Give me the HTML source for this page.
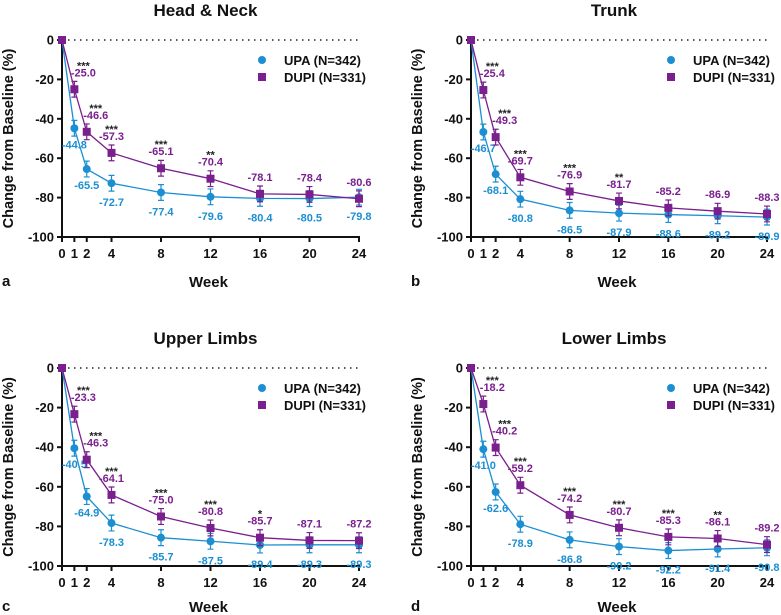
<!DOCTYPE html>
<html><head><meta charset="utf-8"><style>
body{margin:0;background:#fff;}
svg{display:block;font-family:"Liberation Sans",Arial,sans-serif;font-weight:bold;}
</style></head><body>
<svg id="chart" width="781" height="615" viewBox="0 0 781 615"></svg>
<script>
const weeks=[0,1,2,4,8,12,16,20,24];
const yTicks=[0,-20,-40,-60,-80,-100];
const xTickLabels=[0,1,2,4,8,12,16,20,24];
const titles=["Head & Neck","Trunk","Upper Limbs","Lower Limbs"];
const letters=["a","b","c","d"];
const upaA=[0,-44.8,-65.5,-72.7,-77.4,-79.6,-80.4,-80.5,-79.8];
const dupiA=[0,-25.0,-46.6,-57.3,-65.1,-70.4,-78.1,-78.4,-80.6];
const starsA=["","***","***","***","***","**","","",""];
const upaB=[0,-46.7,-68.1,-80.8,-86.5,-87.9,-88.6,-89.2,-89.9];
const dupiB=[0,-25.4,-49.3,-69.7,-76.9,-81.7,-85.2,-86.9,-88.3];
const starsB=["","***","***","***","***","**","","",""];
const upaC=[0,-40.5,-64.9,-78.3,-85.7,-87.5,-89.4,-89.3,-89.3];
const dupiC=[0,-23.3,-46.3,-64.1,-75.0,-80.8,-85.7,-87.1,-87.2];
const starsC=["","***","***","***","***","***","*","",""];
const upaD=[0,-41.0,-62.6,-78.9,-86.8,-90.2,-92.2,-91.4,-90.8];
const dupiD=[0,-18.2,-40.2,-59.2,-74.2,-80.7,-85.3,-86.1,-89.2];
const starsD=["","***","***","***","***","***","***","**",""];
const errBar=4;
const panels=[
 {upa:upaA,dupi:dupiA,stars:starsA,x0:62,x1:359,y0:40,y1:237,ox:0,wk:50},
 {upa:upaB,dupi:dupiB,stars:starsB,x0:471,x1:767,y0:40,y1:237,ox:409,wk:50},
 {upa:upaC,dupi:dupiC,stars:starsC,x0:62,x1:359,y0:368,y1:566,ox:0,wk:46},
 {upa:upaD,dupi:dupiD,stars:starsD,x0:471,x1:767,y0:368,y1:566,ox:409,wk:46}
];
const UPA="#1b8fd2",DUPI="#7a1f8e";
const NS="http://www.w3.org/2000/svg";
const svg=document.getElementById('chart');
function mk(tag,attrs,parent,text){const e=document.createElementNS(NS,tag);for(const k in attrs)e.setAttribute(k,attrs[k]);if(text!==undefined)e.textContent=text;parent.appendChild(e);return e;}
panels.forEach((p,i)=>{
 const g=mk('g',{},svg);
 
 
 const X=w=>p.x0+(p.x1-p.x0)*w/24;
 const Y=v=>p.y0+(p.y1-p.y0)*(-v)/100;
 const t=mk('text',{x:(p.x0+p.x1)/2-5,y:p.y0-24,'font-size':17,'text-anchor':'middle',fill:'#111'},g,titles[i]);
 
 
 const l=mk('text',{x:p.ox+2,y:p.y1+p.wk-1,'font-size':15,fill:'#111'},g,letters[i]);
 
 
 mk('line',{x1:p.x0,y1:Y(0),x2:p.x1,y2:Y(0),stroke:'#222','stroke-width':1.5,'stroke-dasharray':'1.5 4.5'},g);
 const ax=mk('g',{},g);
 
 
 mk('line',{x1:p.x0,y1:p.y0-1,x2:p.x0,y2:p.y1,stroke:'#111','stroke-width':2},ax);
 mk('line',{x1:p.x0-1,y1:p.y1,x2:p.x1+1,y2:p.y1,stroke:'#111','stroke-width':2},ax);
 yTicks.forEach(v=>{
  mk('line',{x1:p.x0-5,y1:Y(v),x2:p.x0,y2:Y(v),stroke:'#111','stroke-width':2},ax);
  const tt=mk('text',{x:p.x0-8,y:Y(v)+4.5,'font-size':13,'text-anchor':'end',fill:'#111'},ax,String(v));
  
  
 });
 xTickLabels.forEach(w=>{
  mk('line',{x1:X(w),y1:p.y1,x2:X(w),y2:p.y1+5,stroke:'#111','stroke-width':2},ax);
  const tt=mk('text',{x:X(w),y:p.y1+21,'font-size':13,'text-anchor':'middle',fill:'#111'},ax,String(w));
  
  
 });
 const xt=mk('text',{x:(p.x0+p.x1)/2-2,y:p.y1+p.wk,'font-size':15,'text-anchor':'middle',fill:'#111'},g,'Week');
 
 
 const cy=(p.y0+p.y1)/2;
 const yt=mk('text',{x:p.ox+13,y:cy,'font-size':14.5,'text-anchor':'middle',fill:'#111',transform:`rotate(-90 ${p.ox+13} ${cy})`},g,'Change from Baseline (%)');
 
 
 [[p.upa,UPA,'upa'],[p.dupi,DUPI,'dupi']].forEach(([arr,col,nm])=>{
  const s=mk('g',{},g);
  
  
  mk('polyline',{points:arr.map((v,j)=>X(weeks[j])+','+Y(v)).join(' '),fill:'none',stroke:col,'stroke-width':1.3},s);
  arr.forEach((v,j)=>{
   const x=X(weeks[j]),y=Y(v);
   if(j>0){const e=errBar*(p.y1-p.y0)/100;
    mk('path',{d:`M${x},${y-e}V${y+e}M${x-3},${y-e}H${x+3}M${x-3},${y+e}H${x+3}`,stroke:col,'stroke-width':1.2,fill:'none'},s);}
   let m;
   if(nm==='upa') m=mk('circle',{cx:x,cy:y,r:4,fill:col},s);
   else m=mk('rect',{x:x-4,y:y-4,width:8,height:8,fill:col},s);
   
   
   if(j>0){
    const dx=(j<=2&&nm==='dupi')?9:0;
    let ly=nm==='upa'?(j<=2?y+20:y+23):y-13;
    const lt=mk('text',{x:x+dx,y:ly,'font-size':11,'text-anchor':'middle',fill:col},s,v.toFixed(1));
    
    
    if(nm==='dupi'&&p.stars[j]){
     const st=mk('text',{x:x+dx,y:y-20,'font-size':11,'text-anchor':'middle',fill:'#222'},s,p.stars[j]);
     
     
    }
   }
  });
 });
 const lg=mk('g',{},g);
 
 
 const lx=p.ox+262,ly=p.y0+20;
 mk('circle',{cx:lx,cy:ly,r:4,fill:UPA},lg);
 const e1=mk('text',{x:lx+22,y:ly+5,'font-size':13,fill:'#111'},lg,'UPA (N=342)');
 
 
 mk('rect',{x:lx-4,y:ly+13,width:8,height:8,fill:DUPI},lg);
 const e2=mk('text',{x:lx+22,y:ly+22,'font-size':13,fill:'#111'},lg,'DUPI (N=331)');
 
 
});
</script>
</body></html>
